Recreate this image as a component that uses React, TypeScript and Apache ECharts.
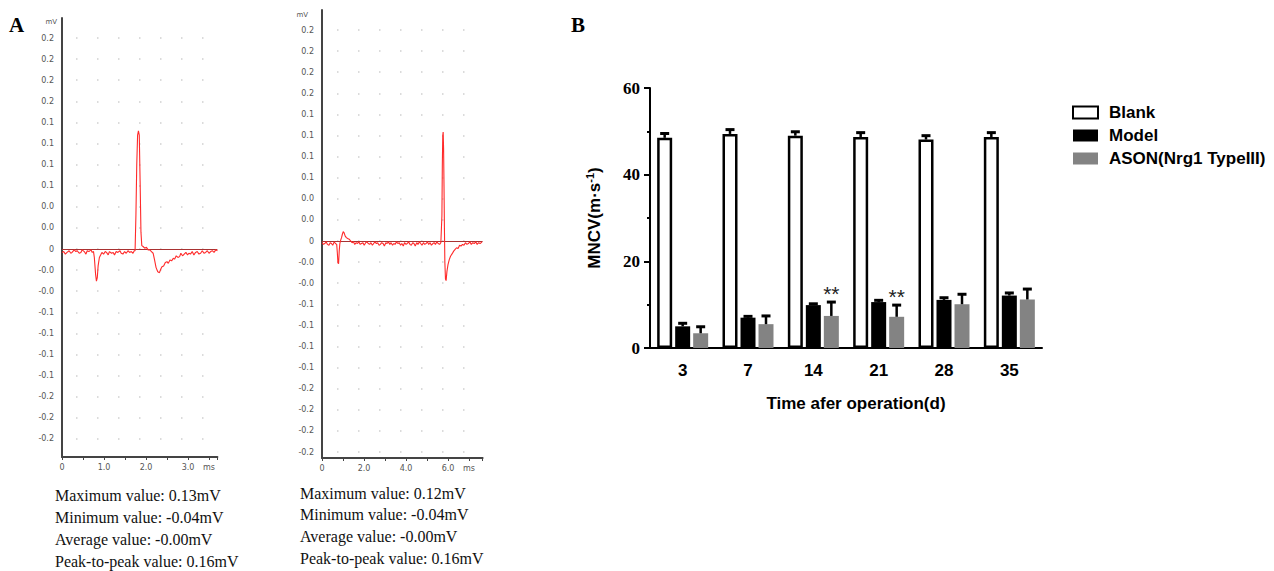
import React, { useEffect, useRef } from "react";
import * as echarts from "echarts";

// ---------- Panel A data ----------
// y tick labels from +0.25 down to -0.25 mV (step 0.025)
const yTickLabels = [
  "0.2", "0.2", "0.2", "0.2", "0.1", "0.1", "0.1", "0.1", "0.0", "0.0", "0",
  "-0.0", "-0.0", "-0.1", "-0.1", "-0.1", "-0.1", "-0.2", "-0.2", "-0.2", "-0.2",
];
const leftXLabels = ["0", "", "1.0", "", "2.0", "", "3.0", "ms"]; // step 0.5 ms
const rightXLabels = ["0", "", "2.0", "", "4.0", "", "6.0", "ms"]; // step 1 ms

const leftTrace: [number, number][] = [
  [0.0, -0.004], [0.04, -0.003], [0.08, -0.006], [0.12, -0.004], [0.17, -0.002],
  [0.21, -0.005], [0.24, -0.004], [0.29, -0.001], [0.33, -0.003], [0.36, -0.002],
  [0.41, -0.005], [0.45, -0.004], [0.48, -0.001], [0.53, -0.003], [0.57, -0.006],
  [0.6, -0.002], [0.64, -0.003], [0.69, -0.001], [0.72, -0.004], [0.75, -0.003],
  [0.77, -0.01], [0.8, -0.03], [0.82, -0.038], [0.84, -0.034], [0.86, -0.02],
  [0.89, -0.01], [0.92, -0.007], [0.95, -0.004], [0.99, -0.006], [1.03, -0.003],
  [1.06, -0.004], [1.1, -0.007], [1.13, -0.003], [1.18, -0.005], [1.22, -0.004],
  [1.25, -0.007], [1.29, -0.003], [1.33, -0.004], [1.38, -0.002], [1.41, -0.005],
  [1.45, -0.006], [1.49, -0.003], [1.53, -0.005], [1.57, -0.002], [1.61, -0.004],
  [1.65, -0.003], [1.69, -0.005], [1.72, -0.002], [1.74, -0.002], [1.76, 0.04],
  [1.78, 0.1], [1.8, 0.135], [1.82, 0.14], [1.84, 0.135], [1.86, 0.08],
  [1.88, 0.02], [1.9, 0.004], [1.93, 0.003], [1.97, 0.001], [2.01, 0.002],
  [2.05, -0.001], [2.09, -0.001], [2.13, -0.003], [2.17, -0.005], [2.2, -0.012],
  [2.24, -0.022], [2.28, -0.027], [2.32, -0.028], [2.35, -0.024], [2.38, -0.021],
  [2.42, -0.02], [2.46, -0.016], [2.5, -0.015], [2.53, -0.017], [2.57, -0.013],
  [2.61, -0.014], [2.65, -0.011], [2.68, -0.012], [2.72, -0.008], [2.76, -0.01],
  [2.8, -0.009], [2.83, -0.005], [2.87, -0.008], [2.91, -0.006], [2.95, -0.004],
  [2.99, -0.007], [3.02, -0.005], [3.06, -0.006], [3.1, -0.003], [3.14, -0.007],
  [3.18, -0.004], [3.22, -0.003], [3.26, -0.006], [3.3, -0.005], [3.34, -0.002],
  [3.38, -0.005], [3.42, -0.004], [3.46, -0.002], [3.5, -0.005], [3.54, -0.003],
  [3.58, -0.002], [3.62, -0.004], [3.66, -0.001], [3.7, -0.002],
];

const rightTrace: [number, number][] = [
  [0.0, -0.002], [0.07, -0.004], [0.13, -0.003], [0.2, -0.001], [0.26, -0.004],
  [0.33, -0.005], [0.39, -0.002], [0.45, -0.003], [0.51, -0.005], [0.58, -0.001],
  [0.64, -0.003], [0.7, -0.004], [0.73, -0.014], [0.76, -0.026], [0.79, -0.027],
  [0.82, -0.012], [0.85, -0.003], [0.89, 0.001], [0.93, 0.004], [0.97, 0.008],
  [1.01, 0.011], [1.05, 0.01], [1.1, 0.006], [1.16, 0.004], [1.22, 0.003],
  [1.3, 0.002], [1.37, 0.0], [1.43, -0.002], [1.5, -0.001], [1.56, -0.004],
  [1.63, -0.002], [1.69, -0.003], [1.75, -0.001], [1.82, -0.004], [1.88, -0.003],
  [1.95, -0.002], [2.01, -0.005], [2.08, -0.002], [2.14, -0.001], [2.2, -0.003],
  [2.27, -0.004], [2.33, -0.002], [2.4, -0.005], [2.46, -0.003], [2.52, -0.001],
  [2.59, -0.003], [2.65, -0.002], [2.72, -0.005], [2.78, -0.004], [2.84, -0.002],
  [2.91, -0.003], [2.97, -0.006], [3.04, -0.002], [3.1, -0.003], [3.16, -0.001],
  [3.23, -0.004], [3.29, -0.002], [3.36, -0.005], [3.42, -0.003], [3.48, -0.004],
  [3.55, -0.001], [3.61, -0.003], [3.68, -0.002], [3.74, -0.005], [3.8, -0.003],
  [3.87, -0.006], [3.93, -0.002], [4.0, -0.004], [4.06, -0.003], [4.12, -0.001],
  [4.19, -0.004], [4.25, -0.005], [4.32, -0.002], [4.38, -0.003], [4.44, -0.006],
  [4.51, -0.002], [4.57, -0.004], [4.64, -0.001], [4.7, -0.003], [4.76, -0.005],
  [4.83, -0.002], [4.89, -0.004], [4.96, -0.003], [5.02, -0.001], [5.08, -0.004],
  [5.15, -0.002], [5.21, -0.005], [5.28, -0.003], [5.34, -0.002], [5.4, -0.004],
  [5.47, -0.001], [5.53, -0.003], [5.6, -0.004], [5.66, -0.002], [5.69, -0.002],
  [5.71, 0.03], [5.73, 0.09], [5.75, 0.125], [5.77, 0.129], [5.79, 0.11],
  [5.81, 0.065], [5.83, 0.015], [5.85, -0.025], [5.88, -0.045], [5.91, -0.047],
  [5.95, -0.036], [6.0, -0.028], [6.06, -0.022], [6.12, -0.018], [6.2, -0.015],
  [6.27, -0.012], [6.34, -0.01], [6.41, -0.008], [6.48, -0.009], [6.55, -0.005],
  [6.62, -0.006], [6.69, -0.004], [6.76, -0.005], [6.83, -0.002], [6.9, -0.004],
  [6.97, -0.003], [7.04, -0.001], [7.11, -0.004], [7.18, -0.002], [7.25, -0.003],
  [7.32, -0.001], [7.39, -0.004], [7.46, -0.002], [7.53, -0.003], [7.62, -0.001],
];

const leftStats = [
  "Maximum value: 0.13mV",
  "Minimum value: -0.04mV",
  "Average value: -0.00mV",
  "Peak-to-peak value: 0.16mV",
];
const rightStats = [
  "Maximum value: 0.12mV",
  "Minimum value: -0.04mV",
  "Average value: -0.00mV",
  "Peak-to-peak value: 0.16mV",
];

// ---------- Panel B data ----------
const categories = ["3", "7", "14", "21", "28", "35"];
const blankMean = [48.5, 49.4, 49.0, 48.7, 48.1, 48.7];
const blankErr = [1.0, 1.0, 0.9, 1.0, 0.9, 1.0];
const modelMean = [5.0, 7.0, 9.9, 10.6, 11.1, 12.1];
const modelErr = [0.7, 0.3, 0.3, 0.4, 0.5, 0.6];
const asonMean = [3.4, 5.5, 7.4, 7.2, 10.1, 11.2];
const asonErr = [1.5, 1.9, 3.2, 2.7, 2.3, 2.4];
const signif = ["", "", "**", "**", "", ""];
const seriesNames = ["Blank", "Model", "ASON(Nrg1 TypeIII)"];

const SANS = "Liberation Sans";
const SERIF = "Liberation Serif";
const SMALL = "DejaVu Sans";

function yLabel(v: number) {
  const idx = Math.round((0.25 - v) / 0.025);
  if (Math.abs((0.25 - v) / 0.025 - idx) > 1e-4) return "";
  return yTickLabels[idx] ?? "";
}
function xLabel(labels: string[], step: number) {
  return (v: number) => {
    const k = v / step;
    const idx = Math.round(k);
    if (Math.abs(k - idx) > 1e-4) return "";
    return labels[idx] ?? "";
  };
}

function errSeries(means: number[], errs: number[], offset: number, sig?: string[]) {
  return {
    type: "custom",
    xAxisIndex: 4,
    yAxisIndex: 4,
    z: 5,
    silent: true,
    data: means.map((m, i) => [i, m, errs[i]]),
    renderItem: (params: any, api: any) => {
      const i = api.value(0);
      const m = api.value(1);
      const e = api.value(2);
      const base = api.coord([i, m]);
      const top = api.coord([i, m + e]);
      const x = base[0] + offset;
      const children: any[] = [
        { type: "line", shape: { x1: x, y1: base[1], x2: x, y2: top[1] }, style: { stroke: "#000", lineWidth: 2.5 } },
        { type: "line", shape: { x1: x - 4.5, y1: top[1], x2: x + 4.5, y2: top[1] }, style: { stroke: "#000", lineWidth: 3 } },
      ];
      const s = sig ? sig[params.dataIndex] : "";
      if (s) {
        children.push({
          type: "text",
          x: x,
          y: top[1] - 19,
          style: { text: s, fontSize: 21, fontFamily: SANS, fill: "#222", align: "center", verticalAlign: "top" },
        });
      }
      return { type: "group", children };
    },
  };
}

const smallAxisColor = "#444";
const smallLabel = { fontSize: 8, color: "#555", fontFamily: SMALL };

function traceXAxis(grid: number, max: number, step: number, labels: string[]) {
  return {
    type: "value",
    gridIndex: grid,
    min: 0,
    max,
    interval: step,
    axisLine: { onZero: false, lineStyle: { color: smallAxisColor, width: 2 } },
    axisTick: { length: 3, lineStyle: { color: smallAxisColor, width: 1 } },
    axisLabel: { ...smallLabel, margin: 6, formatter: xLabel(labels, step), showMaxLabel: true },
    splitLine: { show: false },
  };
}
function hiddenX(grid: number) {
  return { type: "value", gridIndex: grid, min: 0, max: 1, show: false };
}
function traceYAxisLine(grid: number, min: number, max: number, pad: number, gap: number) {
  return {
    type: "value",
    gridIndex: grid,
    min,
    max,
    axisLine: { show: true, onZero: false, lineStyle: { color: smallAxisColor, width: 2 } },
    axisTick: { show: false },
    axisLabel: { show: false },
    splitLine: { show: false },
    name: "mV",
    nameLocation: "end",
    nameGap: gap,
    nameTextStyle: { fontSize: 7, color: "#555", fontFamily: SMALL, align: "right", verticalAlign: "middle", padding: [0, pad, 0, 0] },
  };
}
function traceYAxisLabels(grid: number, min: number, dashOffset: number) {
  return {
    type: "value",
    gridIndex: grid,
    min,
    max: 0.25,
    interval: 0.025,
    axisLine: { show: false },
    axisTick: { show: false },
    axisLabel: { ...smallLabel, margin: 8, formatter: yLabel },
    splitLine: { show: true, lineStyle: { color: "#cfcfcf", width: 1.5, type: [1.5, 19.5], dashOffset } },
  };
}
function traceSeries(xi: number, data: [number, number][]) {
  return {
    type: "line",
    xAxisIndex: xi,
    yAxisIndex: xi,
    data,
    showSymbol: false,
    symbol: "none",
    lineStyle: { color: "#ff2a2a", width: 1.1 },
    z: 3,
    markLine: {
      silent: true,
      symbol: "none",
      label: { show: false },
      lineStyle: { color: "#a83232", width: 1, type: "solid" },
      data: [{ yAxis: 0 }],
      z: 2,
    },
  };
}

function statText(lines: string[], x: number, y0: number, dy: number) {
  return lines.map((t, i) => ({
    type: "text",
    x,
    y: y0 + i * dy,
    style: { text: t, fontSize: 16, fontFamily: SERIF, fill: "#111", verticalAlign: "middle", align: "left" },
  }));
}

export default function App() {
  const ref = useRef<HTMLDivElement>(null);
  useEffect(() => {
    if (!ref.current) return;
    const chart = echarts.init(ref.current, undefined, { renderer: "svg" });
    const option: any = {
      animation: false,
      backgroundColor: "#fff",
      grid: [
        { left: 62, top: 18, width: 155.4, height: 439 },
        { left: 62, top: 38, width: 155.4, height: 400.9 },
        { left: 322, top: 10, width: 160.65, height: 448 },
        { left: 322, top: 30, width: 160.65, height: 422 },
        { left: 650, top: 88, width: 392, height: 260 },
      ],
      xAxis: [
        traceXAxis(0, 3.7, 0.5, leftXLabels),
        hiddenX(1),
        traceXAxis(2, 7.65, 1, rightXLabels),
        hiddenX(3),
        {
          type: "category",
          gridIndex: 4,
          data: categories,
          axisLine: { onZero: false, lineStyle: { color: "#000", width: 2 } },
          axisTick: { alignWithLabel: true, length: 7, lineStyle: { color: "#000", width: 2 } },
          axisLabel: { fontFamily: SANS, fontWeight: "bold", fontSize: 17, color: "#000", margin: 14 },
          name: "Time afer operation(d)",
          nameLocation: "middle",
          nameGap: 47,
          nameTextStyle: { fontFamily: SANS, fontWeight: "bold", fontSize: 17, color: "#000", padding: [0, 0, 0, 20] },
        },
      ],
      yAxis: [
        traceYAxisLine(0, -0.2464, 0.2737, 5, -4),
        traceYAxisLabels(1, -0.225, 7),
        traceYAxisLine(2, -0.2571, 0.2737, 14, -5),
        traceYAxisLabels(3, -0.25, 6),
        {
          type: "value",
          gridIndex: 4,
          min: 0,
          max: 60,
          interval: 20,
          axisLine: { show: true, lineStyle: { color: "#000", width: 2 } },
          axisTick: { show: true, length: 6, lineStyle: { color: "#000", width: 2 } },
          minorTick: { show: true, splitNumber: 2, length: 3, lineStyle: { color: "#000", width: 2 } },
          axisLabel: { fontFamily: SERIF, fontWeight: "bold", fontSize: 17, color: "#000", margin: 10 },
          splitLine: { show: false },
          name: "MNCV(m·s{sup|-1})",
          nameLocation: "middle",
          nameGap: 46,
          nameTextStyle: {
            fontFamily: SANS,
            fontWeight: "bold",
            fontSize: 17,
            color: "#000",
            lineHeight: 20,
            rich: {
              sup: { fontFamily: SANS, fontWeight: "bold", fontSize: 11, color: "#000", lineHeight: 20, verticalAlign: "top", padding: [0, 0, 8, 0] },
            },
          },
        },
      ],
      legend: {
        data: seriesNames,
        orient: "vertical",
        left: 1067,
        top: 99,
        itemWidth: 25,
        itemHeight: 12,
        itemGap: 6,
        icon: "rect",
        selectedMode: false,
        textStyle: { fontFamily: SANS, fontWeight: "bold", fontSize: 17, color: "#000", padding: [0, 0, 0, 6] },
      },
      series: [
        traceSeries(0, leftTrace),
        traceSeries(2, rightTrace),
        {
          type: "bar",
          name: seriesNames[0],
          xAxisIndex: 4,
          yAxisIndex: 4,
          data: blankMean,
          barWidth: 15,
          barGap: "20%",
          itemStyle: { color: "#fff", borderColor: "#000", borderWidth: 2.5 },
        },
        {
          type: "bar",
          name: seriesNames[1],
          xAxisIndex: 4,
          yAxisIndex: 4,
          data: modelMean,
          barWidth: 15,
          barGap: "20%",
          itemStyle: { color: "#000" },
        },
        {
          type: "bar",
          name: seriesNames[2],
          xAxisIndex: 4,
          yAxisIndex: 4,
          data: asonMean,
          barWidth: 15,
          barGap: "20%",
          itemStyle: { color: "#838383" },
        },
        errSeries(blankMean, blankErr, -18),
        errSeries(modelMean, modelErr, 0),
        errSeries(asonMean, asonErr, 18, signif),
      ],
      graphic: [
        { type: "text", x: 9, y: 25, style: { text: "A", fontSize: 21, fontWeight: "bold", fontFamily: SERIF, fill: "#000", verticalAlign: "middle" } },
        { type: "text", x: 571, y: 25, style: { text: "B", fontSize: 21, fontWeight: "bold", fontFamily: SERIF, fill: "#000", verticalAlign: "middle" } },
        ...statText(leftStats, 55, 495, 22.2),
        ...statText(rightStats, 300, 493, 21.7),
      ],
    };
    chart.setOption(option);
    return () => chart.dispose();
  }, []);
  return (
    <div
      ref={ref}
      style={{ position: "absolute", left: 0, top: 0, width: 1274, height: 571 }}
    />
  );
}
